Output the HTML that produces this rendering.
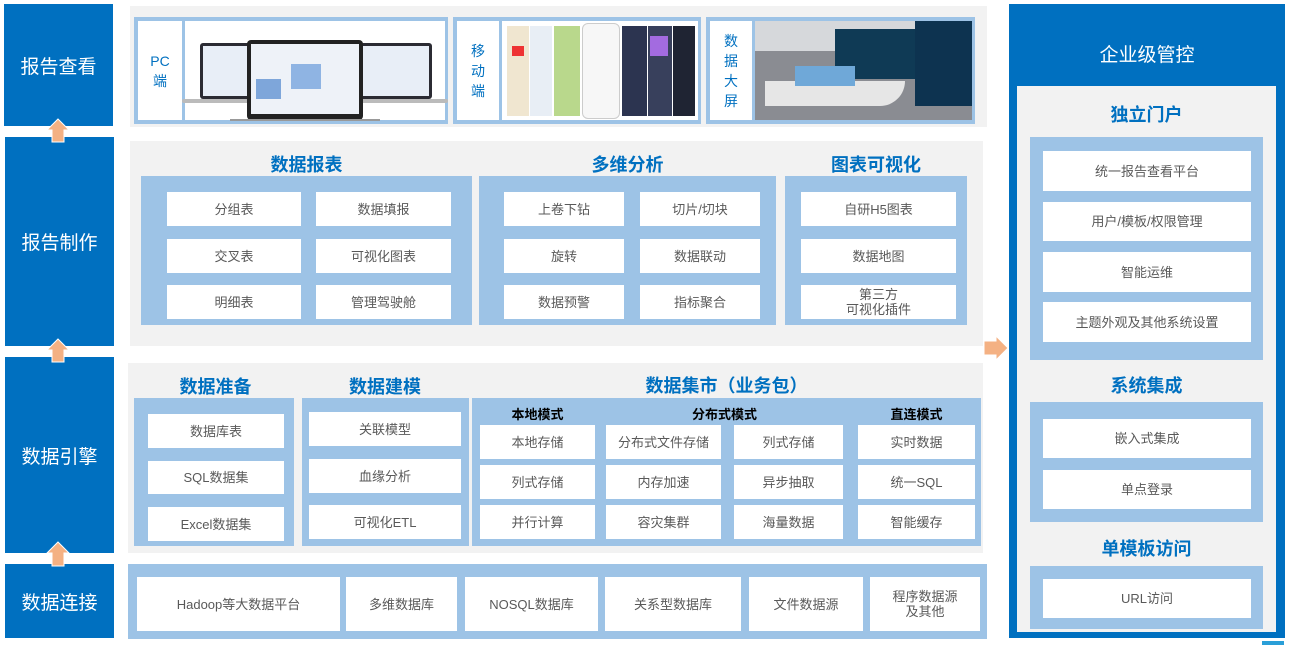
<!DOCTYPE html>
<html><head><meta charset="utf-8"><style>
*{margin:0;padding:0;box-sizing:border-box}
body{width:1291px;height:645px;background:#fff;position:relative;overflow:hidden;font-family:"Liberation Sans","Noto Sans CJK SC",sans-serif}
div{position:absolute}
.db{background:#0070c0;color:#fff;font-size:19px;display:flex;align-items:center;justify-content:center}
.g{background:#f2f2f2}
.lb{background:#9dc3e6}
.w{background:#fff;color:#595959;font-size:13px;display:flex;align-items:center;justify-content:center;text-align:center;line-height:15px}
.t{color:#0070c0;font-weight:bold;font-size:18px;text-align:center}
.st{color:#000;font-weight:bold;font-size:13px;text-align:center}
.vl{color:#0070c0;font-size:14px;display:flex;align-items:center;justify-content:center;text-align:center;line-height:20px;background:#fff}
</style></head><body>
<div class="db" style="left:4px;top:4px;width:109px;height:122px">报告查看</div>
<div class="db" style="left:5px;top:137px;width:109px;height:209px">报告制作</div>
<div class="db" style="left:5px;top:357px;width:109px;height:196px">数据引擎</div>
<div class="db" style="left:5px;top:564px;width:109px;height:74px">数据连接</div>
<svg style="position:absolute;left:0;top:0" width="1291" height="645">
<g fill="#f4b183" stroke="#fff" stroke-width="1">
<polygon points="58,119 69,130 64,130 64,142 52,142 52,130 47,130"/>
<polygon points="58,339 69,350 64,350 64,362 52,362 52,350 47,350"/>
<polygon points="58,542 69,553 64,553 64,566 52,566 52,553 47,553"/>
<polygon points="984,341 996,341 996,336 1008,348 996,360 996,355 984,355"/>
</g>
<rect x="1262" y="641" width="22" height="4" fill="#2a9fd8"/>
</svg>

<div class="g" style="left:130px;top:6px;width:857px;height:121px"></div>
<div class="lb" style="left:134px;top:17px;width:314px;height:107px"></div>
<div class="vl" style="left:138px;top:21px;width:44px;height:99px">PC<br>端</div>
<div style="left:185px;top:21px;width:260px;height:99px;background:#fff">
 <div style="left:15px;top:22px;width:72px;height:56px;background:#2b2b33;border-radius:3px"><div style="left:3px;top:3px;width:66px;height:50px;background:#e8eef7"></div></div>
 <div style="left:175px;top:22px;width:72px;height:56px;background:#2b2b33;border-radius:3px"><div style="left:3px;top:3px;width:66px;height:50px;background:#e8eef7"></div></div>
 <div style="left:-3px;top:78px;width:266px;height:4px;background:#bbb;border-radius:2px"></div>
 <div style="left:62px;top:19px;width:116px;height:80px;background:#222;border-radius:4px"><div style="left:4px;top:4px;width:108px;height:70px;background:#eef2f8"><div style="left:40px;top:20px;width:30px;height:25px;background:#8fb4e3"></div><div style="left:5px;top:35px;width:25px;height:20px;background:#7ea6da"></div></div></div>
 <div style="left:45px;top:98px;width:150px;height:2px;background:#999"></div>
</div>
<div class="lb" style="left:453px;top:17px;width:248px;height:107px"></div>
<div class="vl" style="left:457px;top:21px;width:42px;height:99px">移<br>动<br>端</div>
<div style="left:502px;top:21px;width:196px;height:99px;background:#fff">
 <div style="left:5px;top:5px;width:22px;height:90px;background:#f0e6d0"><div style="left:5px;top:20px;width:12px;height:10px;background:#e33"></div></div>
 <div style="left:28px;top:5px;width:22px;height:90px;background:#e8eef5"></div>
 <div style="left:52px;top:5px;width:26px;height:90px;background:#b9d88c"></div>
 <div style="left:80px;top:2px;width:38px;height:96px;background:#f7f7f7;border:1px solid #ccc;border-radius:6px"></div>
 <div style="left:120px;top:5px;width:25px;height:90px;background:#2c3450"></div>
 <div style="left:146px;top:5px;width:24px;height:90px;background:#38405c"><div style="left:2px;top:10px;width:18px;height:20px;background:#a36be0"></div></div>
 <div style="left:171px;top:5px;width:22px;height:90px;background:#1f2433"></div>
</div>
<div class="lb" style="left:706px;top:17px;width:269px;height:107px"></div>
<div class="vl" style="left:710px;top:21px;width:42px;height:99px">数<br>据<br>大<br>屏</div>
<div style="left:755px;top:21px;width:217px;height:99px;background:#8a8c92">
 <div style="left:0;top:0;width:217px;height:30px;background:#d6d8db"></div>
 <div style="left:80px;top:8px;width:137px;height:50px;background:#0f3a55"></div>
 <div style="left:160px;top:0;width:57px;height:85px;background:#0d3350"></div>
 <div style="left:10px;top:60px;width:140px;height:25px;background:#e6e6e6;border-radius:0 0 40px 0"></div>
 <div style="left:40px;top:45px;width:60px;height:20px;background:#6fa8d8"></div>
</div>

<div class="g" style="left:130px;top:141px;width:853px;height:205px"></div>
<div class="t" style="left:141px;top:151px;width:331px">数据报表</div>
<div class="t" style="left:479px;top:151px;width:297px">多维分析</div>
<div class="t" style="left:785px;top:151px;width:182px">图表可视化</div>
<div class="lb" style="left:141px;top:176px;width:331px;height:149px"></div>
<div class="lb" style="left:479px;top:176px;width:297px;height:149px"></div>
<div class="lb" style="left:785px;top:176px;width:182px;height:149px"></div>
<div class="w" style="left:167px;top:192px;width:134px;height:34px">分组表</div>
<div class="w" style="left:316px;top:192px;width:135px;height:34px">数据填报</div>
<div class="w" style="left:167px;top:239px;width:134px;height:34px">交叉表</div>
<div class="w" style="left:316px;top:239px;width:135px;height:34px">可视化图表</div>
<div class="w" style="left:167px;top:285px;width:134px;height:34px">明细表</div>
<div class="w" style="left:316px;top:285px;width:135px;height:34px">管理驾驶舱</div>
<div class="w" style="left:504px;top:192px;width:120px;height:34px">上卷下钻</div>
<div class="w" style="left:640px;top:192px;width:120px;height:34px">切片/切块</div>
<div class="w" style="left:504px;top:239px;width:120px;height:34px">旋转</div>
<div class="w" style="left:640px;top:239px;width:120px;height:34px">数据联动</div>
<div class="w" style="left:504px;top:285px;width:120px;height:34px">数据预警</div>
<div class="w" style="left:640px;top:285px;width:120px;height:34px">指标聚合</div>
<div class="w" style="left:801px;top:192px;width:155px;height:34px">自研H5图表</div>
<div class="w" style="left:801px;top:239px;width:155px;height:34px">数据地图</div>
<div class="w" style="left:801px;top:285px;width:155px;height:34px">第三方<br>可视化插件</div>

<div class="g" style="left:128px;top:363px;width:855px;height:190px"></div>
<div class="t" style="left:137px;top:373px;width:157px">数据准备</div>
<div class="t" style="left:302px;top:373px;width:166px">数据建模</div>
<div class="t" style="left:472px;top:372px;width:509px">数据集市（业务包）</div>
<div class="lb" style="left:134px;top:398px;width:160px;height:148px"></div>
<div class="lb" style="left:302px;top:398px;width:167px;height:148px"></div>
<div class="lb" style="left:472px;top:398px;width:509px;height:148px"></div>
<div class="w" style="left:148px;top:414px;width:136px;height:34px">数据库表</div>
<div class="w" style="left:148px;top:461px;width:136px;height:33px">SQL数据集</div>
<div class="w" style="left:148px;top:507px;width:136px;height:34px">Excel数据集</div>
<div class="w" style="left:309px;top:412px;width:152px;height:34px">关联模型</div>
<div class="w" style="left:309px;top:459px;width:152px;height:34px">血缘分析</div>
<div class="w" style="left:309px;top:505px;width:152px;height:34px">可视化ETL</div>
<div class="st" style="left:480px;top:404px;width:115px">本地模式</div>
<div class="st" style="left:606px;top:404px;width:237px">分布式模式</div>
<div class="st" style="left:858px;top:404px;width:117px">直连模式</div>
<div class="w" style="left:480px;top:425px;width:115px;height:34px">本地存储</div>
<div class="w" style="left:606px;top:425px;width:115px;height:34px">分布式文件存储</div>
<div class="w" style="left:734px;top:425px;width:109px;height:34px">列式存储</div>
<div class="w" style="left:858px;top:425px;width:117px;height:34px">实时数据</div>
<div class="w" style="left:480px;top:465px;width:115px;height:34px">列式存储</div>
<div class="w" style="left:606px;top:465px;width:115px;height:34px">内存加速</div>
<div class="w" style="left:734px;top:465px;width:109px;height:34px">异步抽取</div>
<div class="w" style="left:858px;top:465px;width:117px;height:34px">统一SQL</div>
<div class="w" style="left:480px;top:505px;width:115px;height:34px">并行计算</div>
<div class="w" style="left:606px;top:505px;width:115px;height:34px">容灾集群</div>
<div class="w" style="left:734px;top:505px;width:109px;height:34px">海量数据</div>
<div class="w" style="left:858px;top:505px;width:117px;height:34px">智能缓存</div>

<div class="lb" style="left:128px;top:564px;width:859px;height:75px"></div>
<div class="w" style="left:137px;top:577px;width:203px;height:54px">Hadoop等大数据平台</div>
<div class="w" style="left:346px;top:577px;width:111px;height:54px">多维数据库</div>
<div class="w" style="left:465px;top:577px;width:133px;height:54px">NOSQL数据库</div>
<div class="w" style="left:605px;top:577px;width:136px;height:54px">关系型数据库</div>
<div class="w" style="left:749px;top:577px;width:114px;height:54px">文件数据源</div>
<div class="w" style="left:870px;top:577px;width:110px;height:54px">程序数据源<br>及其他</div>

<div class="db" style="left:1009px;top:4px;width:276px;height:634px;align-items:flex-start;padding-top:36px">企业级管控</div>
<div class="g" style="left:1017px;top:86px;width:259px;height:546px"></div>
<div class="t" style="left:1017px;top:101px;width:259px">独立门户</div>
<div class="lb" style="left:1030px;top:137px;width:233px;height:223px"></div>
<div class="w" style="left:1043px;top:151px;width:208px;height:40px">统一报告查看平台</div>
<div class="w" style="left:1043px;top:202px;width:208px;height:39px">用户/模板/权限管理</div>
<div class="w" style="left:1043px;top:252px;width:208px;height:40px">智能运维</div>
<div class="w" style="left:1043px;top:302px;width:208px;height:40px">主题外观及其他系统设置</div>
<div class="t" style="left:1017px;top:372px;width:259px">系统集成</div>
<div class="lb" style="left:1030px;top:402px;width:233px;height:120px"></div>
<div class="w" style="left:1043px;top:419px;width:208px;height:39px">嵌入式集成</div>
<div class="w" style="left:1043px;top:470px;width:208px;height:39px">单点登录</div>
<div class="t" style="left:1017px;top:535px;width:259px">单模板访问</div>
<div class="lb" style="left:1030px;top:566px;width:233px;height:63px"></div>
<div class="w" style="left:1043px;top:579px;width:208px;height:39px">URL访问</div>
</body></html>
